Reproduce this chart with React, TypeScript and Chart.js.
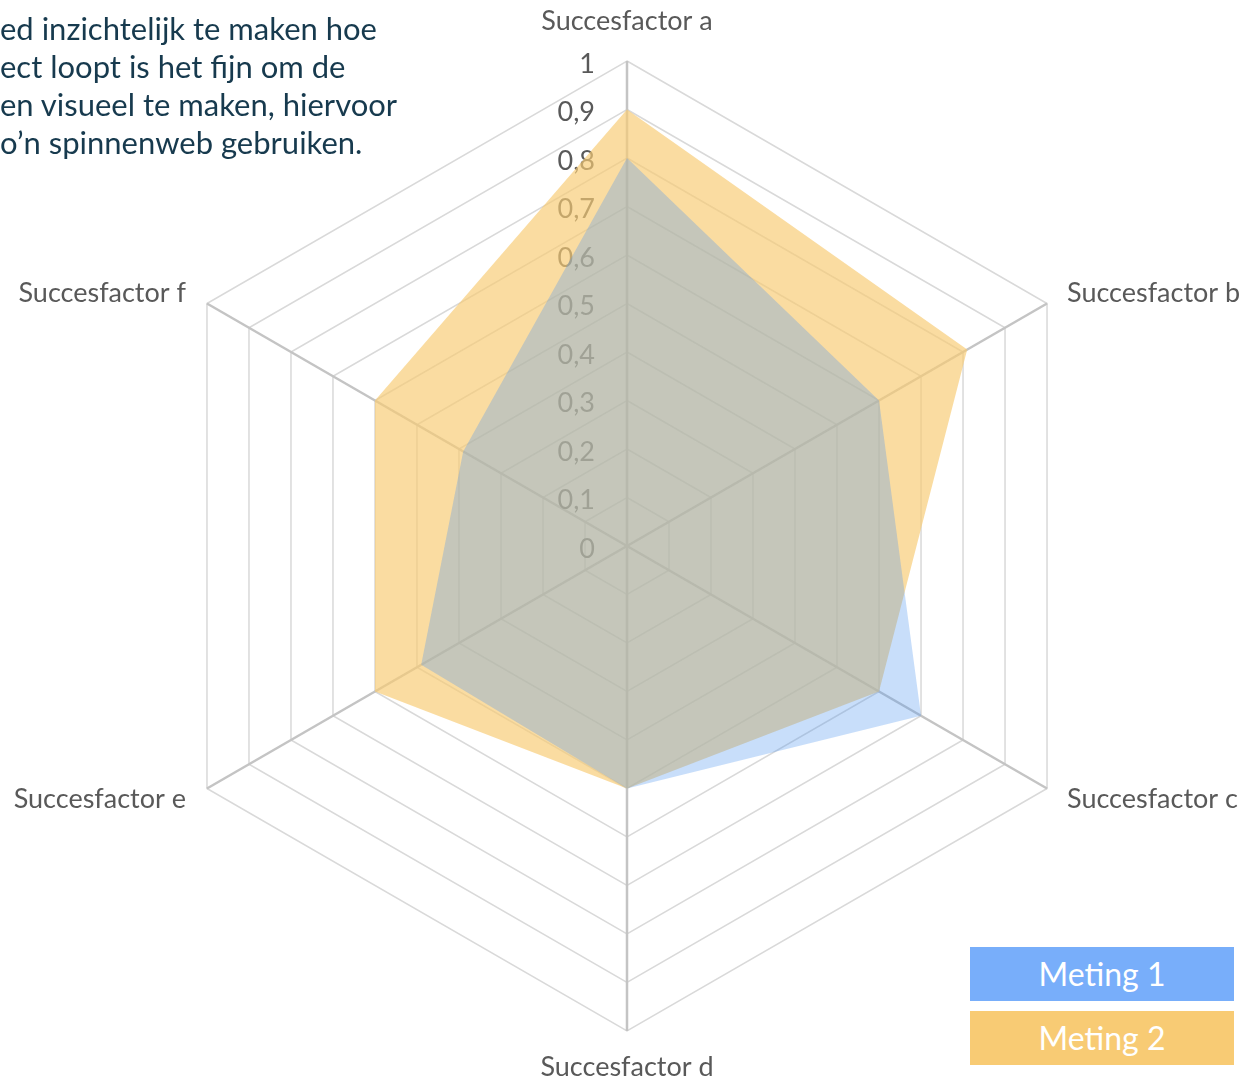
import React, { useEffect, useRef } from "react";
import { Chart, registerables } from "chart.js";

Chart.register(...registerables);

const categories = [
  "Succesfactor a",
  "Succesfactor b",
  "Succesfactor c",
  "Succesfactor d",
  "Succesfactor e",
  "Succesfactor f",
];
const seriesNames = ["Meting 1", "Meting 2"];
const meting1 = [0.8, 0.6, 0.7, 0.5, 0.49, 0.39];
const meting2 = [0.9, 0.81, 0.6, 0.5, 0.6, 0.6];
const tickValues = [0, 0.1, 0.2, 0.3, 0.4, 0.5, 0.6, 0.7, 0.8, 0.9, 1];
const tickLabels = ["0", "0,1", "0,2", "0,3", "0,4", "0,5", "0,6", "0,7", "0,8", "0,9", "1"];
const introLines = [
  "ed inzichtelijk te maken hoe",
  "ect loopt is het fijn om de",
  "en visueel te maken, hiervoor",
  "o\u2019n spinnenweb gebruiken.",
];

const legendColors = ["#78aefa", "#f8cb74"];
const fillColors = ["rgba(83,152,239,0.32)", "rgba(248,204,117,0.68)"];

const labelPlugin = {
  id: "customRadarLabels",
  beforeDatasetsDraw(chart: any) {
    const scale = chart.scales.r;
    const ctx = chart.ctx;
    ctx.save();
    ctx.font = "27px Lato";
    ctx.fillStyle = "#595959";
    ctx.textAlign = "right";
    ctx.textBaseline = "alphabetic";
    tickValues.forEach((v, i) => {
      const d = scale.getDistanceFromCenterForValue(v);
      ctx.fillText(tickLabels[i], scale.xCenter - 32, scale.yCenter - d + 11.5);
    });
    ctx.restore();
  },
  afterDraw(chart: any) {
    const scale = chart.scales.r;
    const ctx = chart.ctx;
    ctx.save();
    ctx.font = "27px Lato";
    ctx.fillStyle = "#595959";
    ctx.textBaseline = "alphabetic";
    categories.forEach((label, i) => {
      const p = scale.getPointPosition(i, scale.drawingArea);
      const above = p.y < scale.yCenter;
      if (Math.abs(p.x - scale.xCenter) < 2) {
        ctx.textAlign = "center";
        ctx.fillText(label, p.x, above ? p.y - 31 : p.y + 45);
      } else {
        const right = p.x > scale.xCenter;
        ctx.textAlign = right ? "left" : "right";
        ctx.fillText(label, right ? p.x + 20 : p.x - 21, above ? p.y - 1.5 : p.y + 19);
      }
    });
    ctx.restore();
  },
};

export default function App() {
  const canvasRef = useRef<HTMLCanvasElement | null>(null);

  useEffect(() => {
    if (!canvasRef.current) return;
    const chart = new Chart(canvasRef.current, {
      type: "radar",
      data: {
        labels: categories,
        datasets: [
          {
            label: seriesNames[0],
            data: meting1,
            backgroundColor: fillColors[0],
            borderWidth: 0,
            pointRadius: 0,
            fill: true,
          },
          {
            label: seriesNames[1],
            data: meting2,
            backgroundColor: fillColors[1],
            borderWidth: 0,
            pointRadius: 0,
            fill: true,
          },
        ],
      },
      options: {
        responsive: false,
        animation: false,
        devicePixelRatio: 1,
        layout: { padding: { left: 142, right: 130, top: 61, bottom: 51 } },
        plugins: {
          legend: { display: false },
          tooltip: { enabled: false },
        },
        scales: {
          r: {
            min: 0,
            max: 1,
            ticks: { display: false, stepSize: 0.1 },
            pointLabels: { display: false },
            grid: { color: "#d9d9d9", lineWidth: 1.5 },
            angleLines: { color: "#c4c4c4", lineWidth: 2.5 },
          },
        },
      },
      plugins: [labelPlugin],
    });
    if ((document as any).fonts && (document as any).fonts.load) {
      (document as any).fonts
        .load("27px Lato")
        .then(() => chart.draw())
        .catch(() => {});
    }
    return () => chart.destroy();
  }, []);

  return (
    <div
      style={{
        position: "absolute",
        left: 0,
        top: 0,
        width: 1242,
        height: 1082,
        overflow: "hidden",
        background: "#ffffff",
        fontFamily: "Lato, sans-serif",
      }}
    >
      <canvas
        ref={canvasRef}
        width={1242}
        height={1082}
        style={{ position: "absolute", left: 0, top: 0, width: 1242, height: 1082 }}
      />
      <div
        style={{
          position: "absolute",
          left: 0,
          top: 9,
          fontSize: 31,
          lineHeight: "38px",
          color: "#173a4e",
          whiteSpace: "nowrap",
        }}
      >
        {introLines.map((l, i) => (
          <div key={i}>{l}</div>
        ))}
      </div>
      {seriesNames.map((name, i) => (
        <div
          key={name}
          style={{
            position: "absolute",
            left: 970,
            top: 947 + i * 64,
            width: 264,
            height: 54,
            background: legendColors[i],
            color: "#ffffff",
            fontSize: 32,
            lineHeight: "54px",
            textAlign: "center",
          }}
        >
          {name}
        </div>
      ))}
    </div>
  );
}
